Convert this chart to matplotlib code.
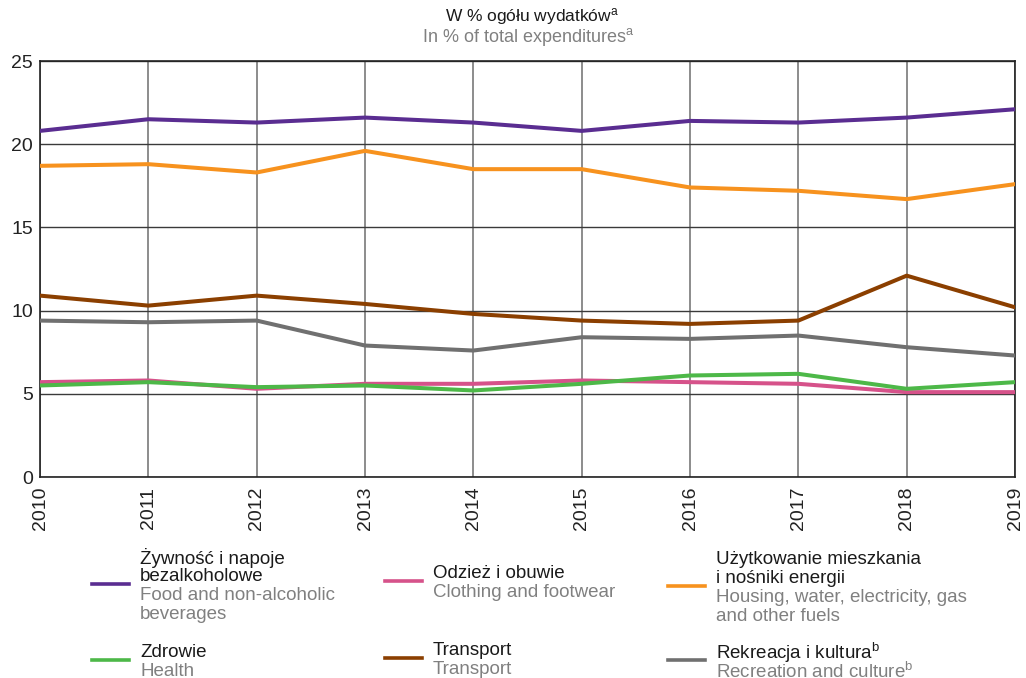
import numpy as np
from matplotlib import pyplot as plt
from matplotlib import rcParams

rcParams['font.family'] = ['Liberation Sans', 'DejaVu Sans']
rcParams['mathtext.fontset'] = 'custom'
rcParams['mathtext.rm'] = 'Liberation Sans'
rcParams['mathtext.it'] = 'Liberation Sans:italic'

# data (% of total expenditures)
years = [2010, 2011, 2012, 2013, 2014, 2015, 2016, 2017, 2018, 2019]
food = [20.8, 21.5, 21.3, 21.6, 21.3, 20.8, 21.4, 21.3, 21.6, 22.1]
housing = [18.7, 18.8, 18.3, 19.6, 18.5, 18.5, 17.4, 17.2, 16.7, 17.6]
transport = [10.9, 10.3, 10.9, 10.4, 9.8, 9.4, 9.2, 9.4, 12.1, 10.2]
recreation = [9.4, 9.3, 9.4, 7.9, 7.6, 8.4, 8.3, 8.5, 7.8, 7.3]
clothing = [5.7, 5.8, 5.3, 5.6, 5.6, 5.8, 5.7, 5.6, 5.1, 5.1]
health = [5.5, 5.7, 5.4, 5.5, 5.2, 5.6, 6.1, 6.2, 5.3, 5.7]

c_food = '#5a2d91'
c_housing = '#f7921e'
c_transport = '#8b3f00'
c_recreation = '#707070'
c_clothing = '#d6528a'
c_health = '#4db848'

W, H = 1026, 678
fig = plt.figure(figsize=(W / 100, H / 100), dpi=100)
ax = fig.add_axes([40 / W, 1 - 477 / H, 975 / W, 416 / H])

lw = 2.9
ax.plot(years, recreation, color=c_recreation, lw=lw, zorder=3)
ax.plot(years, transport, color=c_transport, lw=lw, zorder=3)
ax.plot(years, clothing, color=c_clothing, lw=lw, zorder=3)
ax.plot(years, health, color=c_health, lw=lw, zorder=4)
ax.plot(years, housing, color=c_housing, lw=lw, zorder=3)
ax.plot(years, food, color=c_food, lw=lw, zorder=3)

ax.set_xlim(2010, 2019)
ax.set_ylim(0, 25)
ax.set_xticks(years)
ax.set_yticks([0, 5, 10, 15, 20, 25])
ax.xaxis.grid(True, color='#6e6e6e', lw=1.1)
ax.yaxis.grid(True, color='#3a3a3a', lw=1.0)
ax.set_axisbelow(True)
for s in ax.spines.values():
    s.set_color('#222222')
    s.set_linewidth(1.2)
ax.tick_params(length=0, labelsize=14, colors='#222222', pad=5)
ax.tick_params(axis='x', rotation=90, pad=7)

# title
fig.text(532 / W, 1 - 17 / H, 'W % ogółu wydatków$^{\\mathrm{a}}$', ha='center', va='center',
         fontsize=12.5, color='#1a1a1a')
fig.text(528 / W, 1 - 37 / H, 'In % of total expenditures$^{\\mathrm{a}}$', ha='center', va='center',
         fontsize=13, color='#808080')

# legend drawn by hand
entries = [
    (92, 584, c_food, ['Żywność i napoje', 'bezalkoholowe'], ['Food and non-alcoholic', 'beverages']),
    (385, 581, c_clothing, ['Odzież i obuwie'], ['Clothing and footwear']),
    (668, 586, c_housing, ['Użytkowanie mieszkania', 'i nośniki energii'],
     ['Housing, water, electricity, gas', 'and other fuels']),
    (92, 660, c_health, ['Zdrowie'], ['Health']),
    (385, 658, c_transport, ['Transport'], ['Transport']),
    (668, 660, c_recreation, ['Rekreacja i kultura$^{\\mathrm{b}}$'],
     ['Recreation and culture$^{\\mathrm{b}}$']),
]
step = 19
for x0, yl, col, pl, en in entries:
    fig.add_artist(plt.Line2D([x0 / W, (x0 + 37) / W], [1 - yl / H, 1 - yl / H],
                              color=col, lw=2.6))
    lines = [(t, '#1a1a1a') for t in pl] + [(t, '#808080') for t in en]
    n = len(lines)
    y_first = yl + 2 - (n - 1) * step / 2
    for i, (t, tc) in enumerate(lines):
        fig.text((x0 + 48) / W, 1 - (y_first + i * step) / H, t, ha='left', va='center',
                 fontsize=13.5, color=tc)

plt.savefig('out.png', dpi=100)
